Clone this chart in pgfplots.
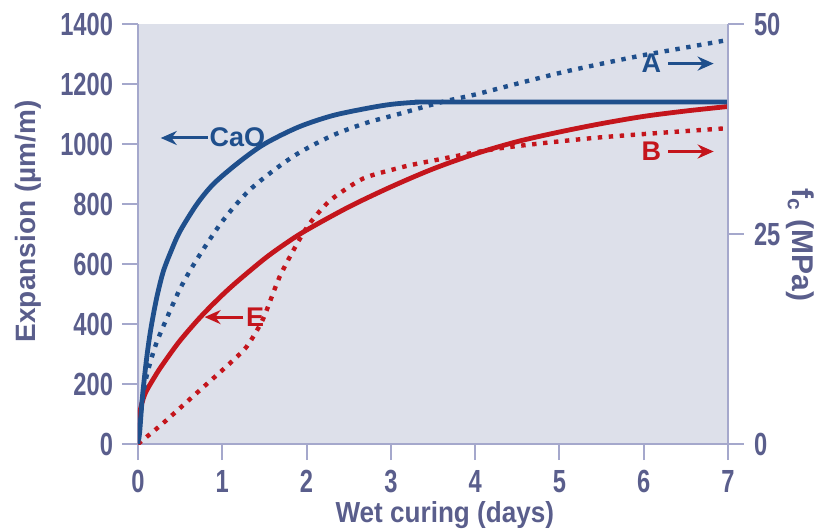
\documentclass[border=0pt]{standalone}
\usepackage{fontspec}
\setmainfont{Liberation Sans}
\newfontfamily\xlabfont{Liberation Sans}[FakeStretch=0.9]
\newfontfamily\ticfont{Liberation Sans}[FakeStretch=0.74]
\usepackage{pgfplots}
\pgfplotsset{compat=1.18}
\usetikzlibrary{arrows.meta}
\definecolor{cblue}{RGB}{31,79,140}
\definecolor{cred}{RGB}{196,21,28}
\definecolor{bgcol}{RGB}{221,224,234}
\definecolor{axcol}{RGB}{165,168,204}
\definecolor{txtcol}{RGB}{90,94,140}
\newcommand{\tfont}{\ticfont\bfseries\fontsize{16}{16}\selectfont}
\newcommand{\afont}{\bfseries\fontsize{13.5}{13.5}\selectfont}
\pgfplotsset{
  common/.style={
    scale only axis, width=295pt, height=210pt,
    xmin=0, xmax=7,
    tick align=outside, major tick length=8pt,
    tick style={axcol, line width=1pt},
    axis line style={axcol, line width=1pt},
    tick label style={font=\tfont, text=txtcol},
    /pgf/number format/assume math mode=true,
    /pgf/number format/1000 sep={},
  },
  dots/.style={line width=2.2pt, dash pattern=on 2.2pt off 3.3pt},
  solid line/.style={line width=2.4pt},
}
\begin{document}
\begin{tikzpicture}
\useasboundingbox (-69pt,-42.5pt) rectangle (347.5pt,222pt);
\begin{axis}[common,
  ymin=0, ymax=1400,
  axis background/.style={fill=bgcol},
  axis y line*=left, axis x line*=bottom,
  xtick={0,1,...,7}, ytick={0,200,...,1400},
  yticklabel style={xshift=-1pt},
  xticklabel style={yshift=-1.5pt},
  xlabel={Wet curing (days)},
  ylabel={Expansion (\textmu m/m)},
  every axis x label/.style={at={([yshift=-25pt]axis description cs:0.52,0)}, anchor=north, font=\xlabfont\bfseries\fontsize{14.5}{14.5}\selectfont, text=txtcol},
  every axis y label/.style={at={([xshift=-55pt]axis description cs:0,0.53)}, anchor=center, rotate=90, font=\bfseries\fontsize{14}{14}\selectfont, text=txtcol},
]
% E (left axis), solid red
\addplot[cred, solid line, smooth, tension=0.5] coordinates {
(0,0) (0.02,100) (0.08,165) (0.2,225) (0.3,268) (0.5,345) (0.77,432) (1.09,520) (1.49,615) (1.75,668) (2.0,713) (2.5,790) (3.0,857) (3.5,917) (4.0,967) (4.5,1008) (5.0,1040) (5.5,1068) (6.0,1092) (6.5,1110) (7,1125)};
% CaO (left axis), solid blue
\addplot[cblue, solid line, smooth, tension=0.5] coordinates {
(0,0) (0.02,40) (0.05,150) (0.1,280) (0.15,380) (0.22,485) (0.3,575) (0.4,648) (0.5,710) (0.7,800) (0.9,868) (1.2,940) (1.5,1000) (1.9,1056) (2.3,1094) (2.7,1118) (3.0,1132) (3.3,1139) (3.6,1140) (7,1140)};
% annotations
\draw[cblue, line width=1.5pt, -{Stealth[length=8pt,width=7pt]}] (axis cs:0.83,1020) -- (axis cs:0.27,1020);
\node[cblue, font=\afont] at (axis cs:1.18,1022) {CaO};
\draw[cred, line width=1.5pt, -{Stealth[length=8pt,width=7pt]}] (axis cs:1.25,423) -- (axis cs:0.79,423);
\node[cred, font=\afont] at (axis cs:1.39,423) {E};
\draw[cblue, line width=1.5pt, -{Stealth[length=8pt,width=7pt]}] (axis cs:6.29,1268) -- (axis cs:6.83,1268);
\node[cblue, font=\afont] at (axis cs:6.09,1270) {A};
\draw[cred, line width=1.5pt, -{Stealth[length=8pt,width=7pt]}] (axis cs:6.29,975) -- (axis cs:6.83,975);
\node[cred, font=\afont] at (axis cs:6.09,977) {B};
\end{axis}
\begin{axis}[common,
  ymin=0, ymax=50,
  axis y line*=right, axis x line=none,
  ytick={0,25,50},
  yticklabel style={xshift=1.5pt},
  ylabel={f\textsubscript{c} (MPa)},
  every axis y label/.style={at={([xshift=36pt]axis description cs:1,0.474)}, anchor=center, rotate=-90, font=\bfseries\fontsize{15}{15}\selectfont, text=txtcol},
]
% B (right axis), dotted red
\addplot[cred, dots, smooth, tension=0.4] coordinates {
(0,0) (0.3,2.5) (0.7,6.1) (1.09,9.6) (1.29,11.6) (1.48,14.8) (1.68,19.9) (1.89,23.9) (2.04,26.3) (2.28,29.0) (2.67,31.6) (3.11,32.9) (3.38,33.5) (4.29,35.2) (5.48,36.5) (7,37.6)};
% A (right axis), dotted blue
\addplot[cblue, dots, smooth, tension=0.5] coordinates {
(0,0) (0.05,5) (0.1,8) (0.2,11.5) (0.3,14) (0.5,18.5) (0.7,22) (1.0,26.5) (1.3,30) (1.6,32.5) (1.9,34.6) (2.3,36.7) (2.7,38.2) (3.1,39.3) (3.6,40.7) (4.0,41.6) (4.5,42.9) (5.1,44.4) (5.9,46.1) (6.5,47.2) (7,48.1)};
\end{axis}
\end{tikzpicture}
\end{document}
